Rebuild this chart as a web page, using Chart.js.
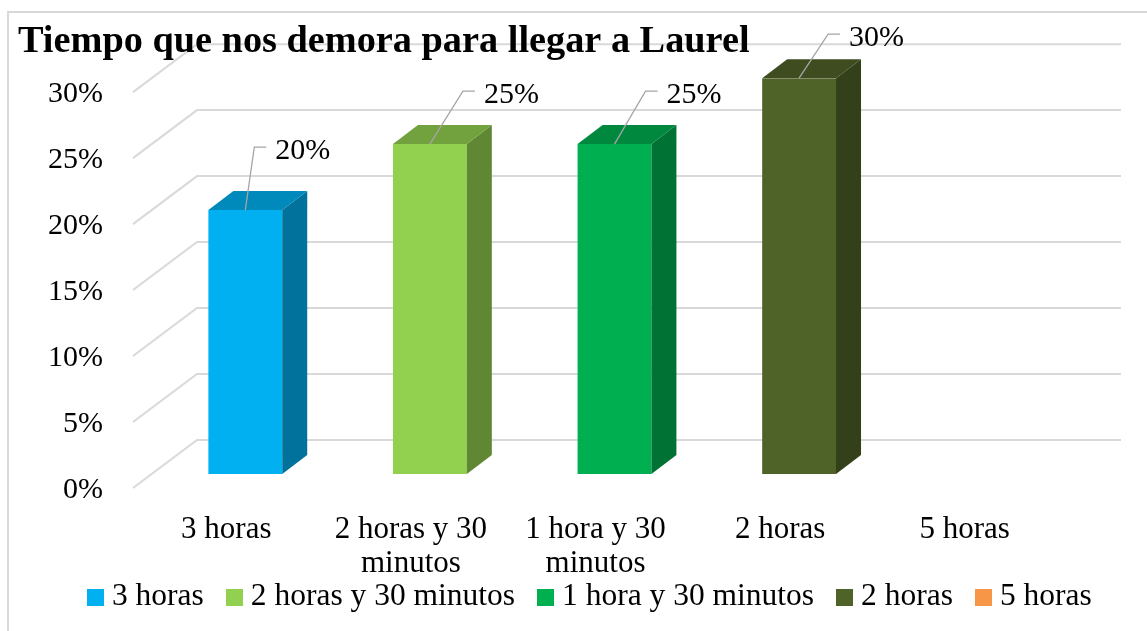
<!DOCTYPE html>
<html>
<head>
<meta charset="utf-8">
<script src="https://cdn.jsdelivr.net/npm/chart.js@4"></script>
<style>
    body { margin: 0; background: #ffffff; }
    canvas { display: block; }
</style>
</head>
<body>
<canvas id="chart" width="1147" height="631"></canvas>
<script>
const titleText = "Tiempo que nos demora para llegar a Laurel";
const categories = ["3 horas", "2 horas y 30 minutos", "1 hora y 30 minutos", "2 horas", "5 horas"];
const tickLabels = ["3 horas", ["2 horas y 30", "minutos"], ["1 hora y 30", "minutos"], "2 horas", "5 horas"];
const values = [20, 25, 25, 30, 0];
const colors = ["#00b0f0", "#92d050", "#00b050", "#4f6228", "#f79646"];

// leader line elbow for each data label, relative to the top of the bar
const leaderOffsets = [[9, -63], [33, -53], [31, -53], [29, -44], [0, 0]];

const fontName = "'Liberation Serif', 'Times New Roman', serif";
const depthX = 25;
const depthY = 19;
const wallX = 197;
const wallRight = 1121;
const wallY = -34;
const frontX = 133;
const frontY = 14;

function shade(hex, factor) {
    const n = parseInt(hex.slice(1), 16);
    const r = Math.round((n >> 16) * factor);
    const g = Math.round(((n >> 8) & 255) * factor);
    const b = Math.round((n & 255) * factor);
    return `rgb(${r},${g},${b})`;
}

function legendSwatch(color) {
    const swatch = document.createElement("canvas");
    swatch.width = 17;
    swatch.height = 17;
    const c = swatch.getContext("2d");
    c.fillStyle = color;
    c.fillRect(0, 0, 17, 17);
    return swatch;
}

function polygon(ctx, points, color) {
    ctx.fillStyle = color;
    ctx.beginPath();
    points.forEach((p, i) => i === 0 ? ctx.moveTo(p[0], p[1]) : ctx.lineTo(p[0], p[1]));
    ctx.closePath();
    ctx.fill();
}

// the legend sits closer to the axis labels than the layout would put it
const legendShift = {
    id: "legendShift",
    afterLayout(chart) {
        chart.legend.left += 46.5;
        chart.legend.right += 46.5;
        chart.legend.top -= 30;
    }
};

// frame and the back wall of the 3D box
const wallPlugin = {
    id: "wallPlugin",
    beforeDraw(chart) {
        const ctx = chart.ctx;
        const y = chart.scales.y;
        ctx.save();
        ctx.fillStyle = "#ffffff";
        ctx.fillRect(0, 0, chart.width, chart.height);
        ctx.strokeStyle = "#d9d9d9";
        ctx.lineWidth = 2;
        ctx.beginPath();
        ctx.moveTo(8, 631);
        ctx.lineTo(8, 12);
        ctx.lineTo(1147, 12);
        ctx.stroke();
        y.ticks.forEach((tick) => {
            const py = y.getPixelForValue(tick.value);
            ctx.beginPath();
            ctx.moveTo(frontX, py + frontY);
            ctx.lineTo(wallX, py + wallY);
            ctx.lineTo(wallRight, py + wallY);
            ctx.stroke();
        });
        ctx.restore();
    }
};

// side and top faces of the bars, then leader lines and data labels
const barFaces = {
    id: "barFaces",
    afterDatasetsDraw(chart) {
        const ctx = chart.ctx;
        const bars = chart.getDatasetMeta(0).data;
        ctx.save();
        bars.forEach((bar, i) => {
            if (!values[i]) {
                return;
            }
            const half = bar.width / 2;
            const l = bar.x - half;
            const r = bar.x + half;
            polygon(ctx, [[r, bar.y], [r + depthX, bar.y - depthY], [r + depthX, bar.base - depthY], [r, bar.base]], shade(colors[i], 0.65));
            polygon(ctx, [[l, bar.y], [l + depthX, bar.y - depthY], [r + depthX, bar.y - depthY], [r, bar.y]], shade(colors[i], 0.78));

            const ex = bar.x + leaderOffsets[i][0];
            const ey = bar.y + leaderOffsets[i][1];
            ctx.strokeStyle = "#a6a6a6";
            ctx.lineWidth = 1.3;
            ctx.beginPath();
            ctx.moveTo(bar.x, bar.y);
            ctx.lineTo(ex, ey);
            ctx.lineTo(ex + 12, ey);
            ctx.stroke();

            ctx.fillStyle = "#000000";
            ctx.font = "30px " + fontName;
            ctx.textAlign = "left";
            ctx.textBaseline = "middle";
            ctx.fillText(values[i] + "%", ex + 21, ey + 4);
        });
        ctx.restore();
    }
};

new Chart(document.getElementById("chart"), {
    type: "bar",
    data: {
        labels: tickLabels,
        datasets: [
            {
                data: values,
                backgroundColor: colors,
                categoryPercentage: 1,
                barPercentage: 0.4
            }
        ]
    },
    options: {
        responsive: false,
        animation: false,
        layout: {
            padding: { left: 18, right: 71, top: 0, bottom: 0 }
        },
        scales: {
            x: {
                grid: { display: false },
                border: { display: false },
                ticks: {
                    color: "#000000",
                    font: { family: fontName, size: 31, lineHeight: 1.12 },
                    padding: 30,
                    labelOffset: -19,
                    maxRotation: 0,
                    autoSkip: false
                },
                afterFit(scale) {
                    scale.height = 107;
                }
            },
            y: {
                min: 0,
                max: 30,
                grid: { display: false, drawTicks: false },
                border: { display: false },
                ticks: {
                    stepSize: 5,
                    color: "#000000",
                    font: { family: fontName, size: 30 },
                    padding: 50,
                    labelOffset: 16,
                    callback: (value) => value + "%"
                },
                afterFit(scale) {
                    scale.width = 135;
                }
            }
        },
        plugins: {
            tooltip: { enabled: false },
            title: {
                display: true,
                text: titleText,
                align: "start",
                color: "#000000",
                font: { family: fontName, size: 38.3, weight: "bold", lineHeight: 1.1 },
                padding: { top: 21, bottom: 15 }
            },
            legend: {
                position: "bottom",
                maxHeight: 50,
                labels: {
                    color: "#000000",
                    font: { family: fontName, size: 31.5 },
                    padding: 30.25,
                    usePointStyle: true,
                    pointStyleWidth: 1,
                    generateLabels: () => categories.map((name, i) => ({
                        text: name,
                        pointStyle: legendSwatch(colors[i]),
                        fontColor: "#000000",
                        datasetIndex: 0,
                        index: i
                    }))
                }
            }
        }
    },
    plugins: [legendShift, wallPlugin, barFaces]
});
</script>
</body>
</html>
